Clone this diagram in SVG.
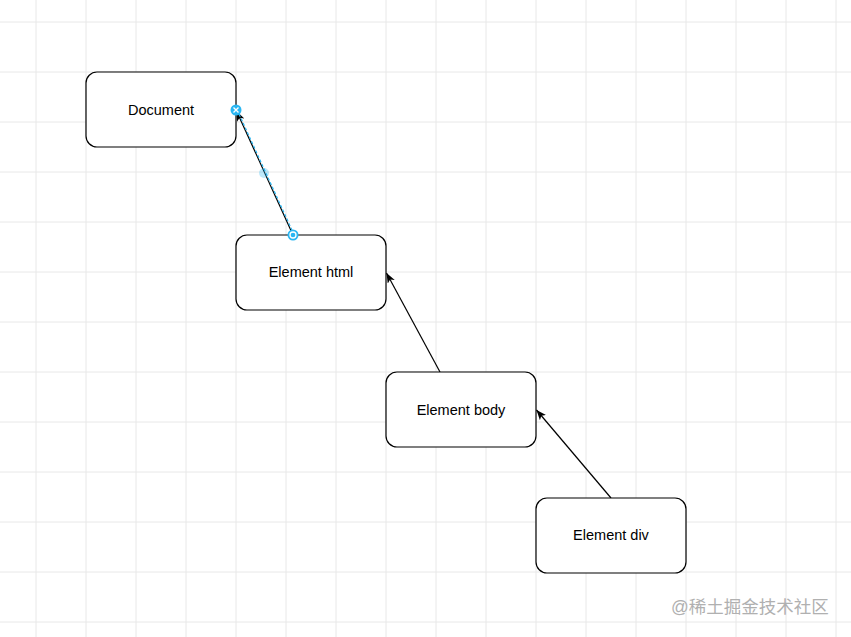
<svg xmlns="http://www.w3.org/2000/svg" width="851" height="637" viewBox="0 0 851 637">
<style>
.grid line{stroke:#e8e8e8;stroke-width:1}
.node rect{fill:#fff;stroke:#000;stroke-width:1.2}
.node text{font-family:"Liberation Sans",Arial,sans-serif;font-size:14.5px;fill:#000;text-anchor:middle;dominant-baseline:central}
.edge{stroke:#000;stroke-width:1.2;fill:none;marker-end:url(#arrow)}
.wm{font-family:"Liberation Sans","Noto Sans CJK SC",sans-serif;font-size:17.5px;fill:#b0b0b0}
</style>
<defs>
<marker id="arrow" markerUnits="userSpaceOnUse" markerWidth="12" markerHeight="10" refX="10" refY="4" orient="auto">
<path d="M0,0 L10,4 L0,8 L2.5,4 Z" fill="#000"/>
</marker>
</defs>
<rect width="851" height="637" fill="#fff"/>
<g class="grid">
<line x1="36" y1="0" x2="36" y2="637"/><line x1="86" y1="0" x2="86" y2="637"/><line x1="136" y1="0" x2="136" y2="637"/><line x1="186" y1="0" x2="186" y2="637"/><line x1="236" y1="0" x2="236" y2="637"/><line x1="286" y1="0" x2="286" y2="637"/><line x1="336" y1="0" x2="336" y2="637"/><line x1="386" y1="0" x2="386" y2="637"/><line x1="436" y1="0" x2="436" y2="637"/><line x1="486" y1="0" x2="486" y2="637"/><line x1="536" y1="0" x2="536" y2="637"/><line x1="586" y1="0" x2="586" y2="637"/><line x1="636" y1="0" x2="636" y2="637"/><line x1="686" y1="0" x2="686" y2="637"/><line x1="736" y1="0" x2="736" y2="637"/><line x1="786" y1="0" x2="786" y2="637"/><line x1="836" y1="0" x2="836" y2="637"/>
<line x1="0" y1="22" x2="851" y2="22"/><line x1="0" y1="72" x2="851" y2="72"/><line x1="0" y1="122" x2="851" y2="122"/><line x1="0" y1="172" x2="851" y2="172"/><line x1="0" y1="222" x2="851" y2="222"/><line x1="0" y1="272" x2="851" y2="272"/><line x1="0" y1="322" x2="851" y2="322"/><line x1="0" y1="372" x2="851" y2="372"/><line x1="0" y1="422" x2="851" y2="422"/><line x1="0" y1="472" x2="851" y2="472"/><line x1="0" y1="522" x2="851" y2="522"/><line x1="0" y1="572" x2="851" y2="572"/><line x1="0" y1="622" x2="851" y2="622"/>
</g>
<g id="connectors">
<line class="edge" x1="293" y1="235" x2="236.5" y2="111"/>
<line x1="294.2" y1="235" x2="239" y2="114" stroke="#29b6f2" stroke-width="1.2" stroke-dasharray="3 2"/>
<line class="edge" x1="440" y1="372" x2="386.5" y2="273"/>
<line class="edge" x1="611" y1="498" x2="536.5" y2="410"/>
</g>
<g id="document" class="node">
<rect x="86" y="72" width="150" height="75" rx="11"/>
<text x="161" y="110">Document</text>
</g>
<g id="element-html" class="node">
<rect x="236" y="235" width="150" height="75" rx="11"/>
<text x="311" y="272">Element html</text>
</g>
<g id="element-body" class="node">
<rect x="386" y="372" width="150" height="75" rx="11"/>
<text x="461" y="410">Element body</text>
</g>
<g id="element-div" class="node">
<rect x="536" y="498" width="150" height="75" rx="11"/>
<text x="611" y="535">Element div</text>
</g>
<g id="selection-handles">
<circle cx="264" cy="173" r="5" fill="#29b6f2" opacity="0.3"/>
<circle cx="236" cy="110" r="5.5" fill="#29b6f2"/>
<path d="M233.5,107.5 L238.5,112.5 M238.5,107.5 L233.5,112.5" stroke="#fff" stroke-width="1.4"/>
<circle cx="293" cy="235" r="5.5" fill="#29b6f2"/>
<circle cx="293" cy="235" r="3" fill="none" stroke="#fff" stroke-width="1.3"/>
</g>
<text class="wm" x="671" y="613">@稀土掘金技术社区</text>
</svg>
